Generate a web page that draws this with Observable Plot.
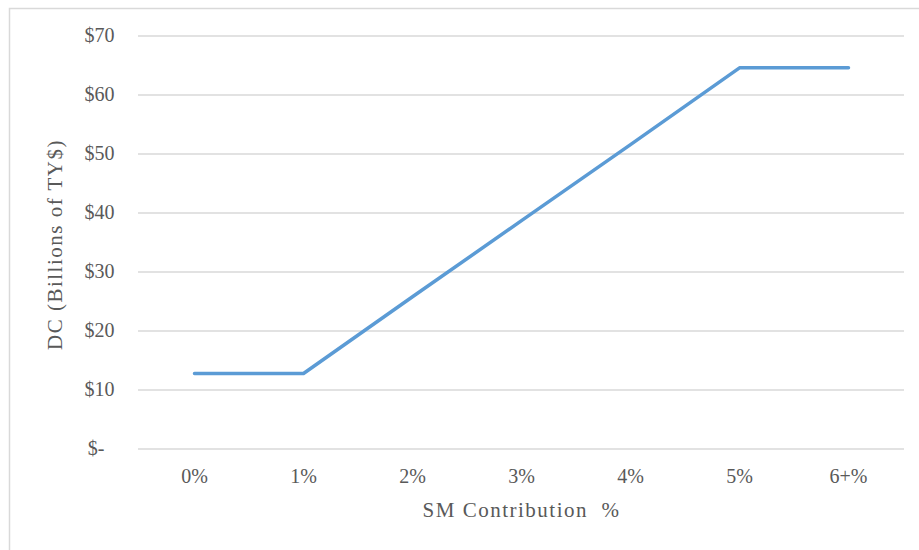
<!DOCTYPE html>
<html>
<head>
<meta charset="utf-8">
<script src="https://cdn.jsdelivr.net/npm/d3@7"></script>
<script src="https://cdn.jsdelivr.net/npm/@observablehq/plot@0.6"></script>
<style>
  body { margin: 0; background: #fff; }
  #chart svg { display: block; }
</style>
</head>
<body>
<div id="chart"></div>
<script>
const categories = ["0%", "1%", "2%", "3%", "4%", "5%", "6+%"];
const values = [12.8, 12.8, 25.8, 38.7, 51.6, 64.6, 64.6];
const yTicks = [0, 10, 20, 30, 40, 50, 60, 70];
const xTitle = "SM Contribution\u00a0\u00a0%";
const yTitle = "DC (Billions of TY$)";

const data = categories.map((c, i) => ({cat: c, value: values[i]}));
const textColor = "#595959";
const font = "'Liberation Serif', 'Times New Roman', serif";

const chart = Plot.plot({
  width: 919,
  height: 550,
  marginLeft: 138,
  marginRight: 15,
  marginTop: 35.5,
  marginBottom: 101.5,
  style: {fontFamily: font, fontSize: "20px", color: textColor, background: "transparent"},
  x: {type: "point", domain: categories, padding: 0.5, label: null},
  y: {domain: [0, 70], label: null},
  marks: [
    Plot.gridY(yTicks, {stroke: "#d9d9d9", strokeOpacity: 1, strokeWidth: 1.3}),
    Plot.axisY(yTicks, {tickSize: 0, tickPadding: 24, fontSize: 20, fill: textColor,
      tickFormat: d => d === 0 ? "$-\u00a0\u00a0" : "$" + d, label: null}),
    Plot.axisX({tickSize: 0, tickPadding: 20, fontSize: 20, fill: textColor, label: null}),
    Plot.line(data, {x: "cat", y: "value", stroke: "#5b9bd5", strokeWidth: 3.5, strokeLinecap: "round", strokeLinejoin: "round"}),
    Plot.text([xTitle], {text: d => d, frameAnchor: "bottom", dy: 68, fontSize: 21, fill: textColor}),
    Plot.text([yTitle], {text: d => d, frameAnchor: "left", textAnchor: "middle", dx: -83, dy: 2, rotate: -90, fontSize: 21, fill: textColor})
  ]
});

d3.select(chart).selectAll("g[aria-label='text'] text")
  .attr("letter-spacing", "1.5px");

d3.select(chart).insert("rect", ":first-child")
  .attr("x", 9.5).attr("y", 8.5)
  .attr("width", 1000).attr("height", 1000)
  .attr("fill", "none").attr("stroke", "#d9d9d9").attr("stroke-width", 1.5);

document.getElementById("chart").appendChild(chart);
</script>
</body>
</html>
